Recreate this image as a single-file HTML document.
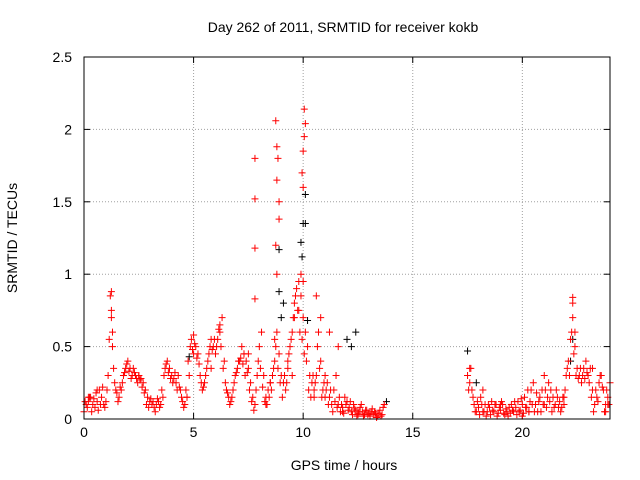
<!DOCTYPE html>
<html><head><meta charset="utf-8"><style>
body{margin:0;background:#fff;}
svg{display:block;font-family:"Liberation Sans",sans-serif;}
</style></head><body>
<svg id="chart" width="640" height="480" viewBox="0 0 640 480">
<rect width="640" height="480" fill="#fff"/>
<text x="343" y="32" font-size="14" text-anchor="middle">Day 262 of 2011, SRMTID for receiver kokb</text>
<text x="344" y="470" font-size="14" text-anchor="middle">GPS time / hours</text>
<text x="17" y="238" font-size="14" text-anchor="middle" transform="rotate(-90 17 238)">SRMTID / TECUs</text>
<g id="grid"></g>
<g id="ticks"></g>
<g id="marks"></g>
<rect x="84" y="57" width="526" height="362" fill="none" stroke="#000" stroke-width="1"/>
</svg>
<script>
const xTicks=[0,5,10,15,20];
const xTickLabels=["0","5","10","15","20"];
const yTicks=[0,0.5,1,1.5,2,2.5];
const yTickLabels=["0","0.5","1","1.5","2","2.5"];
const segAStart=0, segBStart=17.5, segCStart=0.05, segDStart=17.55, step=0.1;
const segAValues=[0.05,0.1,0.12,0.15,0.1,0.08,0.12,0.2,0.15,0.1,0.12,
0.3,0.85,0.6,0.25,0.18,0.15,0.2,0.3,0.35,0.4,
0.35,0.3,0.32,0.28,0.3,0.28,0.25,0.2,0.15,0.12,
0.1,0.08,0.1,0.12,0.1,0.15,0.35,0.4,0.35,0.3,
0.28,0.25,0.3,0.2,0.12,0.1,0.15,0.3,0.55,0.58,
0.5,0.45,0.3,0.2,0.25,0.35,0.45,0.55,0.5,0.45,
0.55,0.6,0.7,0.4,0.2,0.15,0.12,0.2,0.3,0.35,
0.4,0.5,0.45,0.4,0.35,0.25,0.15,0.1,0.3,0.5,
0.6,0.3,0.15,0.2,0.25,0.3,0.4,0.6,0.45,0.3,
0.25,0.2,0.35,0.5,0.6,0.8,0.9,0.95,0.85,0.7,
0.6,0.5,0.3,0.25,0.2,0.3,0.6,0.4,0.2,0.15,
0.25,0.15,0.1,0.2,0.3,0.1,0.05,0.08,0.15,0.12,
0.08,0.05,0.1,0.06,0.04,0.08,0.05,0.03,0.06,0.04,
0.05,0.03,0.04,0.02,0.06,0.03,0.1];
const segCValues=[0.12,0.08,0.15,0.05,0.14,0.18,0.06,0.1,0.22,0.08,0.2,
0.55,0.7,0.35,0.2,0.12,0.22,0.25,0.32,0.38,0.33,
0.28,0.35,0.3,0.25,0.27,0.22,0.18,0.1,0.08,0.14,
0.12,0.05,0.14,0.08,0.2,0.3,0.38,0.32,0.28,0.25,
0.32,0.2,0.22,0.15,0.08,0.2,0.4,0.5,0.48,0.52,
0.42,0.38,0.25,0.22,0.3,0.4,0.5,0.48,0.55,0.5,
0.62,0.5,0.35,0.25,0.18,0.1,0.15,0.25,0.32,0.4,
0.42,0.38,0.3,0.32,0.2,0.12,0.06,0.2,0.4,0.35,
0.22,0.12,0.1,0.15,0.2,0.35,0.5,0.35,0.25,0.15,
0.3,0.25,0.45,0.55,0.7,0.85,0.75,0.6,0.55,0.45,
0.4,0.2,0.15,0.3,0.25,0.5,0.35,0.15,0.25,0.2,
0.1,0.2,0.05,0.12,0.08,0.15,0.1,0.04,0.1,0.06,
0.12,0.03,0.07,0.02,0.05,0.1,0.02,0.06,0.03,0.02,
0.07,0.05,0.01,0.04,0.02,0.08];
const segBValues=[0.3,0.25,0.2,0.1,0.05,0.08,0.15,0.2,0.1,0.05,
0.08,0.12,0.05,0.1,0.04,0.06,0.1,0.03,0.05,0.08,
0.1,0.05,0.08,0.12,0.06,0.1,0.15,0.08,0.05,0.2,
0.25,0.1,0.05,0.15,0.2,0.1,0.08,0.25,0.2,0.15,
0.1,0.15,0.12,0.08,0.1,0.3,0.4,0.55,0.8,0.5,
0.35,0.3,0.25,0.35,0.4,0.3,0.35,0.2,0.1,0.15,
0.25,0.3,0.2,0.1,0.15,0.25];
const segDValues=[0.2,0.35,0.15,0.05,0.12,0.03,0.1,0.05,0.02,0.1,
0.03,0.06,0.1,0.02,0.08,0.12,0.04,0.07,0.02,0.04,
0.06,0.12,0.03,0.05,0.14,0.04,0.08,0.2,0.12,0.1,
0.05,0.18,0.12,0.05,0.1,0.2,0.15,0.12,0.05,0.08,
0.2,0.08,0.05,0.15,0.2,0.35,0.3,0.6,0.45,0.3,
0.28,0.35,0.3,0.28,0.32,0.25,0.15,0.05,0.2,0.12,
0.3,0.22,0.05,0.2,0.1];
const redExtraHours=[7.8,7.8,7.8,7.8,8.75,8.8,8.85,8.8,8.9,8.9,8.75,8.8,8.7,10.05,10.1,10.05,10.0,9.95,10.0,9.9,10.0,9.8,9.6,1.25,1.25,1.3,10.6,10.8,11.2,11.6,7.3,6.2,22.3,22.3,22.4,0.2,0.6,2.5,4.7,5.0,5.8,6.8,7.5,8.3,8.5,9.3,9.5,10.5,11.0,11.8,12.5,17.6,18.2,19.0,20.0,20.3,21.0,21.9,23.2,23.8,23.9];
const redExtraTec=[1.8,1.52,1.18,0.83,2.06,1.88,1.8,1.65,1.5,1.38,1.2,1.0,0.55,2.14,2.04,1.95,1.85,1.7,1.6,1.0,0.95,0.75,0.7,0.88,0.75,0.5,0.85,0.7,0.6,0.5,0.45,0.65,0.84,0.7,0.6,0.15,0.2,0.3,0.15,0.45,0.35,0.2,0.45,0.1,0.25,0.4,0.3,0.15,0.3,0.05,0.03,0.35,0.05,0.1,0.02,0.05,0.3,0.15,0.35,0.05,0.1];
const blackHours=[8.9,8.9,9.1,10.1,10.0,10.1,9.9,9.95,10.2,12.0,12.2,12.4,13.8,17.5,17.9,22.3,22.2,9.0,4.8];
const blackTec=[1.17,0.88,0.8,1.55,1.35,1.35,1.22,1.12,0.68,0.55,0.5,0.6,0.12,0.47,0.25,0.55,0.4,0.7,0.43];

const X0=84,X1=610,Y0=419,Y1=57;
const xs=h=>X0+(h/24)*(X1-X0);
const ys=v=>Y0-(v/2.5)*(Y0-Y1);
const NS="http://www.w3.org/2000/svg";
function mk(tag,attrs,parent){const e=document.createElementNS(NS,tag);for(const k in attrs)e.setAttribute(k,attrs[k]);parent.appendChild(e);return e;}
const grid=document.getElementById('grid'),ticks=document.getElementById('ticks'),marks=document.getElementById('marks');
xTicks.forEach((t,i)=>{const x=xs(t);
 if(t>0){const g=mk('line',{x1:x,x2:x,y1:Y0,y2:Y1,stroke:'#a0a0a0','stroke-dasharray':'1,2'},grid);
 
 }
 mk('line',{x1:x,x2:x,y1:Y0,y2:Y0-6,stroke:'#000'},ticks);
 mk('line',{x1:x,x2:x,y1:Y1,y2:Y1+6,stroke:'#000'},ticks);
 const l=mk('text',{x:x,y:Y0+18,'font-size':14,'text-anchor':'middle'},ticks);l.textContent=xTickLabels[i];
 
 
});
yTicks.forEach((t,i)=>{const y=ys(t);
 if(t>0&&t<2.5){const g=mk('line',{x1:X0,x2:X1,y1:y,y2:y,stroke:'#a0a0a0','stroke-dasharray':'1,2'},grid);
 
 }
 mk('line',{x1:X0,x2:X0+6,y1:y,y2:y,stroke:'#000'},ticks);
 mk('line',{x1:X1,x2:X1-6,y1:y,y2:y,stroke:'#000'},ticks);
 const l=mk('text',{x:X0-12,y:y+5,'font-size':14,'text-anchor':'end'},ticks);l.textContent=yTickLabels[i];
 
 
});
function plus(h,v,color,name){const x=xs(h),y=ys(v);
 const p=mk('path',{d:`M${x-3.5},${y}H${x+3.5}M${x},${y-3.5}V${y+3.5}`,stroke:color,'stroke-width':1,fill:'none'},marks);
 
 }
blackHours.forEach((h,i)=>plus(h,blackTec[i],'#000','point-black'));
segAValues.forEach((v,i)=>plus(segAStart+i*step,v,'#ff0000','point-red'));
segCValues.forEach((v,i)=>plus(segCStart+i*step,v,'#ff0000','point-red'));
segBValues.forEach((v,i)=>plus(segBStart+i*step,v,'#ff0000','point-red'));
segDValues.forEach((v,i)=>plus(segDStart+i*step,v,'#ff0000','point-red'));
redExtraHours.forEach((h,i)=>plus(h,redExtraTec[i],'#ff0000','point-red'));
</script>
</body></html>
